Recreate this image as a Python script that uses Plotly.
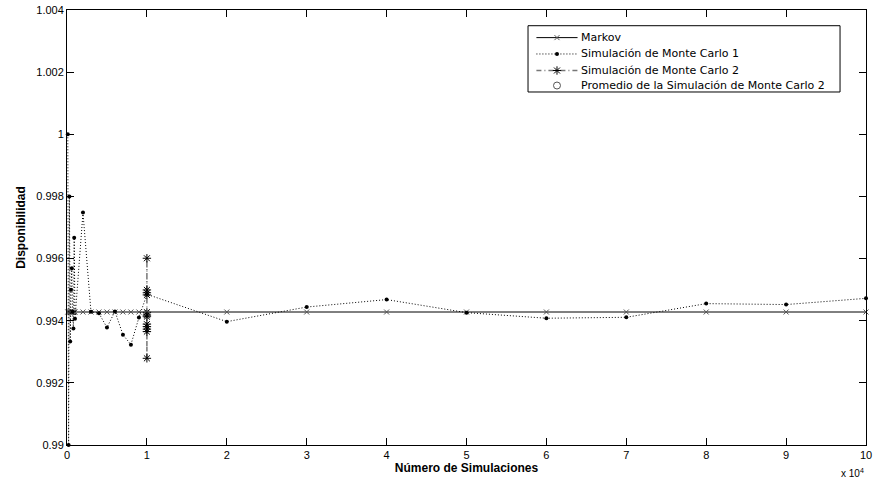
import plotly.graph_objects as go

# ---- data ----
sim_x = [100, 200, 300, 400, 500, 600, 700, 800, 900, 1000,
         2000, 3000, 4000, 5000, 6000, 7000, 8000, 9000, 10000,
         20000, 30000, 40000, 50000, 60000, 70000, 80000, 90000, 100000]
markov_value = 0.99428
mc1_y = [1.0, 0.99, 0.998, 0.99333, 0.995, 0.99569, 0.99429, 0.99375, 0.99667, 0.99406,
         0.99748, 0.99429, 0.99424, 0.99378, 0.9943, 0.99355, 0.99323, 0.9941, 0.99485,
         0.99397, 0.99444, 0.99468, 0.99426, 0.99408, 0.99411, 0.99455, 0.99452, 0.99472]
mc2_x = [10000] * 12
mc2_y = [0.99499, 0.99413, 0.99601, 0.99381, 0.9949, 0.99279,
         0.99427, 0.99365, 0.99483, 0.99389, 0.99418, 0.99373]
prom_x = [10000]
prom_y = [0.99418]

series_names = ["Markov", "Simulación de Monte Carlo 1",
                "Simulación de Monte Carlo 2", "Promedio de la Simulación de Monte Carlo 2"]

x_tickvals = [0, 10000, 20000, 30000, 40000, 50000, 60000, 70000, 80000, 90000, 100000]
x_ticktext = ["0", "1", "2", "3", "4", "5", "6", "7", "8", "9", "10"]
y_tickvals = [0.99, 0.992, 0.994, 0.996, 0.998, 1.0, 1.002, 1.004]
y_ticktext = ["0.99", "0.992", "0.994", "0.996", "0.998", "1", "1.002", "1.004"]

FONT = "Liberation Sans Narrow, Liberation Sans, Arial, sans-serif"
LEG_FONT = "DejaVu Sans, Verdana, sans-serif"

# styles
st_markov = dict(line=dict(color="black", width=1),
                 marker=dict(symbol="x-thin", size=5, color="#555555",
                             line=dict(color="#555555", width=1)))
st_mc1 = dict(line=dict(color="black", width=1, dash="1px,2px"),
              marker=dict(symbol="circle", size=4, color="black"))
st_mc2 = dict(line=dict(color="#777777", width=1.5, dash="5px,3px,1px,3px"),
              marker=dict(symbol="asterisk-open", size=7, color="black",
                          line=dict(color="black", width=1)))
st_prom = dict(marker=dict(symbol="circle-open", size=7, color="#555555",
                           line=dict(color="#555555", width=1)))

fig = go.Figure()
fig.add_trace(go.Scatter(x=sim_x, y=[markov_value] * len(sim_x), name=series_names[0],
                         mode="lines+markers", cliponaxis=False, showlegend=False, **st_markov))
fig.add_trace(go.Scatter(x=sim_x, y=mc1_y, name=series_names[1],
                         mode="lines+markers", cliponaxis=False, showlegend=False, **st_mc1))
fig.add_trace(go.Scatter(x=mc2_x, y=mc2_y, name=series_names[2],
                         mode="lines+markers", cliponaxis=False, showlegend=False, **st_mc2))
fig.add_trace(go.Scatter(x=prom_x, y=prom_y, name=series_names[3],
                         mode="markers", cliponaxis=False, showlegend=False, **st_prom))

# ---- hand-built legend (MATLAB style), in plot-fraction coordinates ----
leg_x0, leg_x1, leg_y0, leg_y1 = 0.577, 0.9675, 0.8115, 0.9639
row_y = [0.9365, 0.8989, 0.8609, 0.8264]
samp_x0, samp_x1, text_x = 0.5875, 0.639, 0.641
samp_mid = (samp_x0 + samp_x1) / 2
fig.add_shape(type="rect", xref="paper", yref="paper", x0=leg_x0, x1=leg_x1,
              y0=leg_y0, y1=leg_y1, line=dict(color="black", width=1),
              fillcolor="rgba(0,0,0,0)")
for i, st in enumerate([st_markov, st_mc1, st_mc2]):
    fig.add_trace(go.Scatter(x=[samp_x0, samp_x1], y=[row_y[i]] * 2, mode="lines",
                             line=st["line"], xaxis="x2", yaxis="y2",
                             showlegend=False, hoverinfo="skip"))
for i, st in enumerate([st_markov, st_mc1, st_mc2, st_prom]):
    fig.add_trace(go.Scatter(x=[samp_mid], y=[row_y[i]], mode="markers",
                             marker=st["marker"], xaxis="x2", yaxis="y2",
                             showlegend=False, hoverinfo="skip"))
    fig.add_annotation(text=series_names[i], xref="paper", yref="paper",
                       x=text_x, y=row_y[i], xanchor="left", yanchor="middle",
                       showarrow=False, font=dict(family=LEG_FONT, size=11, color="black"))

axis_common = dict(ticks="inside", ticklen=7, tickcolor="black", mirror="ticks",
                   showline=True, linecolor="black", linewidth=1, showgrid=False,
                   zeroline=False, automargin=False, tickfont=dict(family=FONT, size=11))

fig.update_layout(
    width=876, height=482,
    margin=dict(l=67, r=10, t=10, b=37, autoexpand=False),
    paper_bgcolor="white", plot_bgcolor="white",
    font=dict(family=FONT, size=11, color="black"),
    showlegend=False,
    xaxis=dict(range=[0, 100000], tickvals=x_tickvals, ticktext=x_ticktext,
               title=dict(text="<b>Número de Simulaciones</b>",
                          font=dict(family=FONT, size=12), standoff=2),
               **axis_common),
    yaxis=dict(range=[0.99, 1.004], tickvals=y_tickvals, ticktext=y_ticktext,
               title=dict(text="<b>Disponibilidad</b>",
                          font=dict(family=FONT, size=12), standoff=8),
               **axis_common),
    xaxis2=dict(overlaying="x", range=[0, 1], visible=False, fixedrange=True),
    yaxis2=dict(overlaying="y", range=[0, 1], visible=False, fixedrange=True),
)
fig.add_annotation(text="x 10<sup>4</sup>", xref="paper", yref="paper",
                   x=1.0, y=0, xanchor="right", yanchor="top", yshift=-20,
                   showarrow=False, font=dict(family=FONT, size=10))

fig.write_html("out.html", config={"displayModeBar": False},
               post_script="document.body.style.margin='0';document.body.style.overflow='hidden';")
